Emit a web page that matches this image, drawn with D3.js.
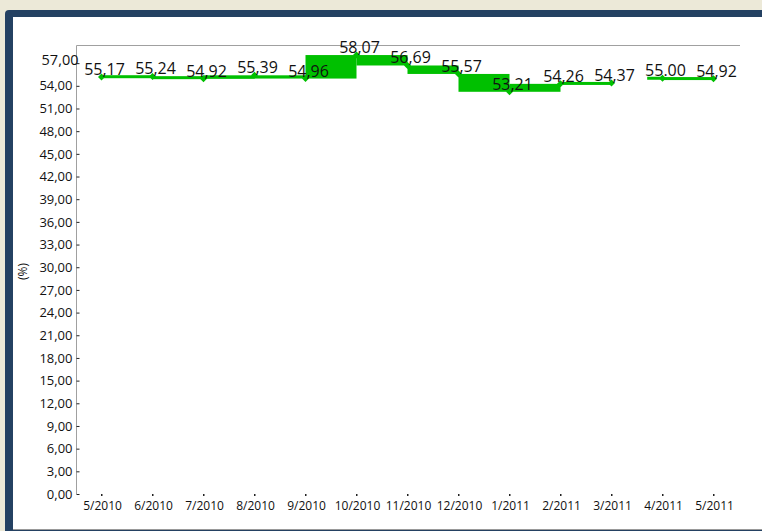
<!DOCTYPE html>
<html>
<head>
<meta charset="utf-8">
<script src="https://cdn.jsdelivr.net/npm/d3@7"></script>
<style>
  html, body { margin: 0; padding: 0; background: #ece9d8; }
  svg { display: block; font-family: "Open Sans", sans-serif; }
</style>
</head>
<body>
<svg id="chart" width="762" height="531"></svg>
<script>
let months = ["5/2010", "6/2010", "7/2010", "8/2010", "9/2010", "10/2010", "11/2010",
              "12/2010", "1/2011", "2/2011", "3/2011", "4/2011", "5/2011"]
let values = [55.17, 55.24, 54.92, 55.39, 54.96, 58.07, 56.69, 55.57, 53.21, 54.26, 54.37, 55.00, 54.92]
let valueLabels = ["55,17", "55,24", "54,92", "55,39", "54,96", "58,07", "56,69",
                   "55,57", "53,21", "54,26", "54,37", "55.00", "54,92"]
let yTicks = [0, 3, 6, 9, 12, 15, 18, 21, 24, 27, 30, 33, 36, 39, 42, 45, 48, 51, 54, 57]
let seriesBreaks = ["4/2011"] // no band drawn into these months

let green = "#00c000"
let svg = d3.select("#chart")

// window frame
svg.append("rect").attr("x", 5).attr("y", 10).attr("width", 780).attr("height", 540)
  .attr("rx", 4).style("fill", "#244162")
svg.append("rect").attr("x", 13).attr("y", 17).attr("width", 760).attr("height", 512)
  .style("fill", "white")
svg.append("line").attr("x1", 13).attr("x2", 762).attr("y1", 529.5).attr("y2", 529.5)
  .style("stroke", "#999").style("stroke-width", 1)

let plot = { left: 76, right: 739, top: 45, bottom: 494 }

let x = d3.scaleBand().domain(months).range([plot.left, plot.right])
let cx = d => x(d) + x.bandwidth() / 2
let y = d3.scaleLinear().domain([0, 59.4]).range([plot.bottom, plot.top])

// plot border (top + left only)
svg.append("path")
  .attr("d", `M${plot.left + 0.5},${plot.bottom} V${plot.top + 0.5} H${plot.right + 1}`)
  .style("fill", "none").style("stroke", "#a0a0a0").style("stroke-width", 1)

// y axis
let fmt = v => d3.format(".2f")(v).replace(".", ",")
let yAxis = svg.append("g").attr("transform", `translate(${plot.left + 0.5},0)`)
  .call(d3.axisLeft(y).tickValues(yTicks).tickFormat(fmt).tickSize(3).tickPadding(1))
yAxis.select(".domain").remove()
yAxis.selectAll(".tick line").attr("x2", 3).style("stroke", "#222")
yAxis.selectAll(".tick text").style("font-size", "13px").style("fill", "#111")
  .style("font-family", "'Open Sans', sans-serif")
yAxis.selectAll(".tick").filter(d => d === 57).select("text")
  .style("font-size", "14.5px").attr("x", 2).attr("dy", "0.1em")

svg.append("text")
  .attr("transform", `translate(27,${(plot.top + plot.bottom) / 2 + 2}) rotate(-90)`)
  .attr("text-anchor", "middle")
  .style("font-size", "12px").style("fill", "#111")
  .text("(%)")

// x axis labels + dot ticks
let xg = svg.append("g")
xg.selectAll("rect.xtick").data(months).enter().append("rect").classed("xtick", true)
  .attr("x", d => cx(d) - 0.5).attr("y", plot.bottom).attr("width", 1.5).attr("height", 2)
  .style("fill", "#222")
xg.selectAll("text").data(months).enter().append("text")
  .attr("x", d => cx(d) + 1).attr("y", 510)
  .attr("text-anchor", "middle")
  .style("font-size", "12px").style("fill", "#111")
  .text(d => d)

// bands between consecutive months
let pts = months.map((m, i) => ({ m, v: values[i], label: valueLabels[i] }))
let bands = pts.slice(1).map((p, i) => ({ a: pts[i], b: p }))
  .filter(d => !seriesBreaks.includes(d.b.m))

svg.selectAll("rect.band").data(bands).enter().append("rect").classed("band", true)
  .attr("x", d => cx(d.a.m))
  .attr("width", d => cx(d.b.m) - cx(d.a.m))
  .attr("y", d => {
    let top = y(Math.max(d.a.v, d.b.v)), h = y(Math.min(d.a.v, d.b.v)) - top
    return h < 3 ? (top + h / 2 - 1.5) : top
  })
  .attr("height", d => Math.max(3, y(Math.min(d.a.v, d.b.v)) - y(Math.max(d.a.v, d.b.v))))
  .style("fill", green)

// lead-in stub where the series restarts
svg.selectAll("rect.restart").data(pts.filter(p => seriesBreaks.includes(p.m))).enter()
  .append("rect").classed("restart", true)
  .attr("x", d => cx(d.m) - x.bandwidth() * 0.3)
  .attr("width", x.bandwidth() * 0.3)
  .attr("y", d => y(d.v) - 1.5).attr("height", 3)
  .style("fill", green)

// diamond markers
svg.selectAll("path.marker").data(pts).enter().append("path").classed("marker", true)
  .attr("transform", d => `translate(${cx(d.m)},${y(d.v)})`)
  .attr("d", "M0,-3.5 L3.5,0 L0,3.5 L-3.5,0 Z")
  .style("fill", green)

// value labels
svg.selectAll("text.vlabel").data(pts).enter().append("text").classed("vlabel", true)
  .attr("x", d => cx(d.m) + 3)
  .attr("y", d => y(d.v) - 2)
  .attr("text-anchor", "middle")
  .style("font-size", "16px").style("fill", "#111")
  .text(d => d.label)
</script>
</body>
</html>
